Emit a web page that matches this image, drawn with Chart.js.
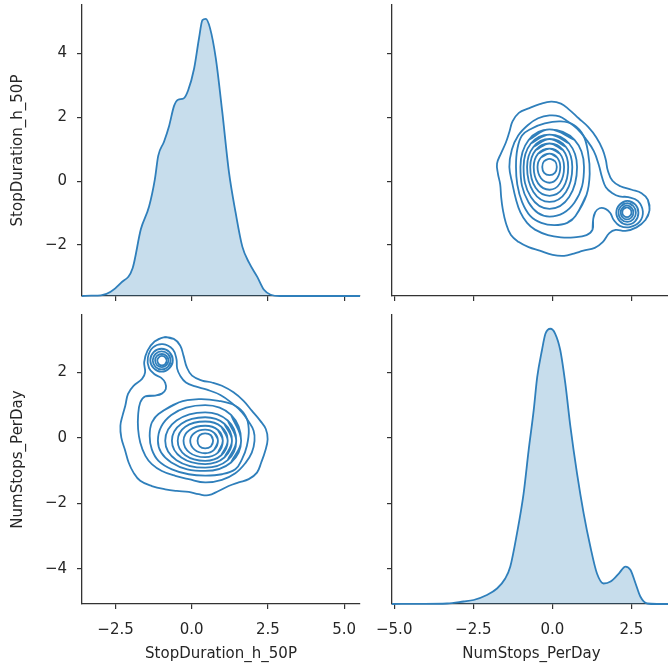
<!DOCTYPE html>
<html><head><meta charset="utf-8">
<script src="https://cdn.jsdelivr.net/npm/chart.js@4.4.0/dist/chart.umd.min.js"></script>
<style>
html,body{margin:0;padding:0;background:#fff;overflow:hidden;width:668px;height:672px;}
canvas{position:absolute;}
</style></head><body>
<canvas id="tl" width="362" height="316" style="left:0px;top:0px"></canvas>
<canvas id="tr" width="310" height="316" style="left:362px;top:0px"></canvas>
<canvas id="bl" width="362" height="372" style="left:0px;top:300px"></canvas>
<canvas id="br" width="310" height="372" style="left:362px;top:300px"></canvas>
<script>
// ---------- axis ranges and ticks ----------
const SD_MIN = -3.6, SD_MAX = 5.52;
const NS_MIN = -5.07, NS_MAX = 3.75;
const sdTicksX = [-2.5, 0, 2.5, 5];
const sdTickLabelsX = ['\u22122.5', '0.0', '2.5', '5.0'];
const sdTicksY = [-2, 0, 2, 4];
const sdTickLabelsY = ['\u22122', '0', '2', '4'];
const nsTicksX = [-5, -2.5, 0, 2.5];
const nsTickLabelsX = ['\u22125.0', '\u22122.5', '0.0', '2.5'];
const nsTicksY = [-4, -2, 0, 2];
const nsTickLabelsY = ['\u22124', '\u22122', '0', '2'];

// ---------- marginal densities ----------
const sdGrid = [-3.6,-3.3,-2.98,-2.66,-2.33,-1.94,-1.67,-1.40,-1.21,-1.10,-0.91,-0.74,-0.58,-0.45,-0.27,-0.12,0.08,0.24,0.35,0.46,0.60,0.79,1.00,1.22,1.44,1.66,1.88,2.15,2.37,2.59,2.90,3.50,5.52];
const sdDensity = [0,0.0005,0.001,0.007,0.021,0.045,0.108,0.145,0.189,0.227,0.250,0.276,0.308,0.318,0.320,0.333,0.369,0.418,0.447,0.449,0.434,0.385,0.299,0.201,0.135,0.080,0.054,0.031,0.010,0.002,0,0,0];
const nsGrid = [-5.07,-4.2,-3.33,-2.81,-2.49,-2.07,-1.75,-1.49,-1.33,-1.12,-0.91,-0.75,-0.59,-0.48,-0.33,-0.22,-0.06,0.09,0.25,0.41,0.57,0.78,0.99,1.20,1.41,1.62,1.84,2.10,2.31,2.47,2.63,2.78,3.00,3.30,3.75];
const nsDensity = [0,0.0002,0.001,0.005,0.008,0.018,0.031,0.051,0.075,0.141,0.221,0.308,0.388,0.454,0.508,0.541,0.551,0.541,0.508,0.441,0.355,0.261,0.181,0.115,0.061,0.041,0.045,0.061,0.075,0.068,0.041,0.015,0.001,0,0];

// ---------- bivariate KDE contour rings: [StopDuration, NumStops] ----------
const ring1 = [[-0.92,3.07],[-0.59,3.02],[-0.38,2.82],[-0.27,2.51],[-0.16,2.15],[0.01,1.90],[0.34,1.75],[0.66,1.69],[0.99,1.59],[1.37,1.39],[1.70,1.13],[1.97,0.83],[2.25,0.52],[2.43,0.27],[2.49,-0.04],[2.41,-0.40],[2.28,-0.75],[2.14,-1.06],[1.87,-1.26],[1.54,-1.36],[1.21,-1.47],[0.88,-1.62],[0.55,-1.75],[0.23,-1.72],[-0.10,-1.65],[-0.49,-1.62],[-0.87,-1.57],[-1.31,-1.47],[-1.69,-1.31],[-1.91,-1.06],[-2.07,-0.75],[-2.18,-0.40],[-2.31,0.01],[-2.34,0.37],[-2.27,0.68],[-2.18,0.98],[-2.09,1.34],[-1.91,1.59],[-1.63,1.80],[-1.53,2.00],[-1.56,2.31],[-1.45,2.66],[-1.22,2.94]];
const ring2 = [[-1.20,1.29],[-1.52,1.27],[-1.69,1.08],[-1.76,0.68],[-1.76,0.27],[-1.69,-0.14],[-1.52,-0.55],[-1.31,-0.80],[-0.98,-1.01],[-0.54,-1.16],[-0.10,-1.26],[0.44,-1.36],[0.99,-1.28],[1.43,-1.08],[1.76,-0.77],[1.97,-0.45],[2.06,-0.09],[2.03,0.22],[1.87,0.49],[1.65,0.78],[1.32,1.06],[0.94,1.31],[0.50,1.47],[0.12,1.57],[-0.19,1.69],[-0.38,1.90],[-0.48,2.12],[-0.50,2.40],[-0.62,2.70],[-0.95,2.86],[-1.27,2.76],[-1.44,2.45],[-1.40,2.13],[-1.22,1.94],[-1.00,1.83],[-0.87,1.68],[-0.85,1.49],[-0.98,1.35]];
const mainRing3 = [[-1.09,0.73],[-0.43,1.08],[0.23,1.18],[0.88,1.13],[1.43,0.98],[1.76,0.68],[1.87,0.27],[1.81,-0.24],[1.65,-0.65],[1.43,-0.96],[0.99,-1.11],[0.44,-1.15],[-0.10,-1.11],[-0.65,-0.96],[-1.09,-0.70],[-1.31,-0.35],[-1.38,0.06],[-1.31,0.47]];
const mainRing4 = [[1.62,-0.09],[1.29,0.70],[0.44,1.00],[-0.67,0.70],[-1.11,-0.09],[-0.67,-0.75],[0.44,-1.01],[1.29,-0.75]];
const mainRing5 = [[1.46,-0.09],[1.18,0.53],[0.44,0.78],[-0.50,0.53],[-0.87,-0.09],[-0.50,-0.68],[0.44,-0.91],[1.18,-0.68]];
const mainRing6 = [[1.32,-0.09],[1.07,0.43],[0.44,0.63],[-0.34,0.43],[-0.65,-0.09],[-0.34,-0.60],[0.44,-0.80],[1.07,-0.60]];
const mainRing7 = [[1.18,-0.09],[0.97,0.34],[0.44,0.50],[-0.21,0.34],[-0.46,-0.09],[-0.21,-0.53],[0.44,-0.70],[0.97,-0.53]];
const mainRing8 = [[1.02,-0.09],[0.86,0.24],[0.44,0.37],[-0.07,0.24],[-0.27,-0.09],[-0.07,-0.45],[0.44,-0.59],[0.86,-0.45]];
const mainRing9 = [[0.86,-0.09],[0.74,0.15],[0.44,0.25],[0.09,0.15],[-0.05,-0.09],[0.09,-0.36],[0.44,-0.47],[0.74,-0.36]];
const mainRing10 = [[0.70,-0.09],[0.63,0.08],[0.44,0.14],[0.26,0.08],[0.19,-0.09],[0.26,-0.26],[0.44,-0.32],[0.63,-0.26]];
const smallRing3 = [[-0.62,2.37],[-0.73,2.62],[-0.99,2.72],[-1.25,2.62],[-1.36,2.37],[-1.25,2.13],[-0.99,2.02],[-0.73,2.13]];
const smallRing4 = [[-0.69,2.37],[-0.78,2.56],[-0.99,2.64],[-1.19,2.56],[-1.28,2.37],[-1.19,2.17],[-0.99,2.09],[-0.78,2.17]];
const smallRing5 = [[-0.76,2.36],[-0.83,2.50],[-0.98,2.56],[-1.14,2.50],[-1.20,2.36],[-1.14,2.22],[-0.98,2.16],[-0.83,2.22]];
const smallRing6 = [[-0.82,2.36],[-0.87,2.46],[-0.98,2.50],[-1.08,2.46],[-1.13,2.36],[-1.08,2.25],[-0.98,2.21],[-0.87,2.25]];
const contourRings = [ring1, ring2, mainRing3, mainRing4, mainRing5, mainRing6, mainRing7, mainRing8, mainRing9, mainRing10, smallRing3, smallRing4, smallRing5, smallRing6];

// ---------- styles ----------
const LINE = '#2f7fbb', FILL = 'rgba(31,119,180,0.25)', AX = '#333333', TXT = '#262626';
const FONT = 'DejaVu Sans';
Chart.defaults.font.family = FONT;

function closeLoop(pts) { return [pts[pts.length - 1], ...pts, pts[0], pts[1]]; }

function contourSets(swap) {
  return contourRings.map(r => ({
    data: closeLoop(r).map(p => swap ? {x: p[1], y: p[0]} : {x: p[0], y: p[1]}),
    showLine: true, borderColor: LINE, borderWidth: 1.8, pointRadius: 0,
    tension: 0.4, fill: false
  }));
}
function densitySet(grid, dens) {
  return [{
    data: grid.map((x, i) => ({x: x, y: dens[i]})), yAxisID: 'yd',
    showLine: true, fill: 'origin', backgroundColor: FILL, borderColor: LINE,
    borderWidth: 1.8, pointRadius: 0, cubicInterpolationMode: 'monotone', clip: false
  }];
}
function axis(o) {
  return {
    type: 'linear', min: o.min, max: o.max, position: o.pos, display: true,
    afterBuildTicks: s => { s.ticks = o.ticks.map(v => ({value: v})); },
    afterFit: s => {
      o.fit(s);
      s.paddingTop = 0; s.paddingBottom = 0; s.paddingLeft = 0; s.paddingRight = 0;
    },
    grid: {display: true, drawOnChartArea: false, drawTicks: true, tickLength: 5, color: AX, tickColor: AX, lineWidth: 1.2, tickWidth: 1.2},
    border: {display: true, color: AX, width: 1.3},
    ticks: {display: !!o.labels, autoSkip: false, maxRotation: 0, minRotation: 0, padding: o.pad || 0,
            color: TXT, font: {family: FONT, size: 15}, callback: (v, i) => o.labels ? o.labels[i] : ''},
    title: o.title ? {display: true, text: o.title, color: TXT, font: {family: FONT, size: 15}, padding: o.tpad} : {display: false}
  };
}
function make(id, datasets, scales, padding) {
  new Chart(document.getElementById(id), {
    type: 'scatter',
    data: {datasets: datasets},
    options: {
      responsive: false, animation: false, events: [],
      layout: {padding: padding},
      plugins: {legend: {display: false}, tooltip: {enabled: false}},
      scales: scales
    }
  });
}

// top-left: StopDuration density
make('tl', densitySet(sdGrid, sdDensity), {
  x: axis({min: SD_MIN, max: SD_MAX, pos: 'bottom', ticks: sdTicksX, fit: s => { s.height = 20; }}),
  y: axis({min: SD_MIN, max: SD_MAX, pos: 'left', ticks: sdTicksY, labels: sdTickLabelsY, pad: 10,
           title: 'StopDuration_h_50P', tpad: {top: 9, bottom: 0}, fit: s => { s.width = 82; }}),
  yd: {type: 'linear', display: false, min: 0, max: Math.max(...sdDensity) * 1.05}
}, {top: 5, right: 2, left: 0, bottom: 0});

// top-right: NumStops (x) vs StopDuration (y)
make('tr', contourSets(true), {
  x: axis({min: NS_MIN, max: NS_MAX, pos: 'bottom', ticks: nsTicksX, fit: s => { s.height = 20; }}),
  y: axis({min: SD_MIN, max: SD_MAX, pos: 'left', ticks: sdTicksY, fit: s => { s.width = 30; }})
}, {top: 5, right: 1, left: 0, bottom: 0});

// bottom-left: StopDuration (x) vs NumStops (y)
make('bl', contourSets(false), {
  x: axis({min: SD_MIN, max: SD_MAX, pos: 'bottom', ticks: sdTicksX, labels: sdTickLabelsX, pad: 12,
           title: 'StopDuration_h_50P', tpad: {top: 0, bottom: 9}, fit: s => { s.height = 68; }}),
  y: axis({min: NS_MIN, max: NS_MAX, pos: 'left', ticks: nsTicksY, labels: nsTickLabelsY, pad: 10,
           title: 'NumStops_PerDay', tpad: {top: 9, bottom: 0}, fit: s => { s.width = 82; }})
}, {top: 15, right: 2, left: 0, bottom: 0});

// bottom-right: NumStops density
make('br', densitySet(nsGrid, nsDensity), {
  x: axis({min: NS_MIN, max: NS_MAX, pos: 'bottom', ticks: nsTicksX, labels: nsTickLabelsX, pad: 12,
           title: 'NumStops_PerDay', tpad: {top: 0, bottom: 9}, fit: s => { s.height = 68; }}),
  y: axis({min: NS_MIN, max: NS_MAX, pos: 'left', ticks: nsTicksY, fit: s => { s.width = 30; }}),
  yd: {type: 'linear', display: false, min: 0, max: Math.max(...nsDensity) * 1.05}
}, {top: 15, right: 1, left: 0, bottom: 0});
</script>
</body></html>
